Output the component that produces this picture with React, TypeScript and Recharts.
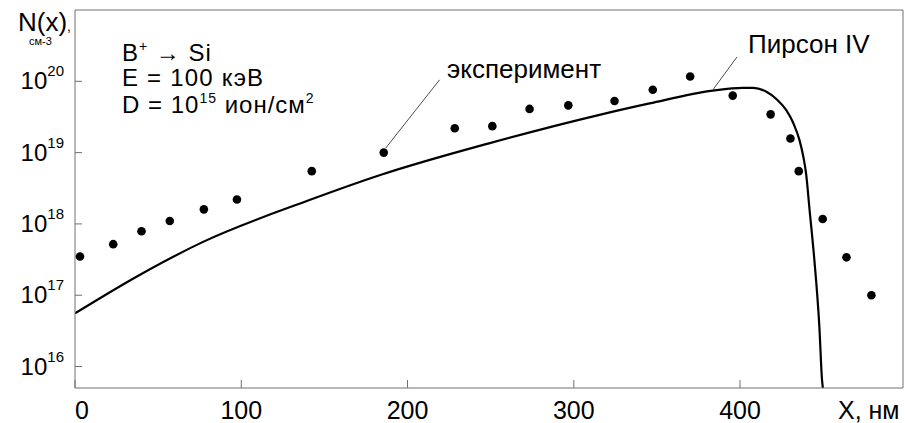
import React from "react";
import {
  ComposedChart,
  Line,
  Scatter,
  XAxis,
  YAxis,
  ReferenceLine,
} from "recharts";

// Pearson IV model curve, x in nm
const pearsonX = [
  0, 37, 77, 141, 185, 249, 315.5, 345.6, 383.6, 401.6, 408, 415.6, 422,
  427.6, 432, 435.7, 438, 439.7, 441.8, 444.7, 447.7, 449.3, 449.8,
];
const pearsonN = [
  5.57e16, 1.82e17, 5.6e17, 2.16e18, 4.97e18, 1.35e19, 3.39e19, 4.9e19,
  7.4e19, 8.1e19, 8.1e19, 7.2e19, 5.6e19, 4.0e19, 2.6e19, 1.51e19,
  8.9e18, 5.1e18, 1.58e18, 3.1e17, 3.6e16, 6.5e15, 5e15,
];

// experiment points
const expX = [
  3, 23, 40, 57, 77.5, 97.4, 142.4, 185.7, 228.4, 251, 273.4, 296.7,
  324.5, 347.5, 370, 395.6, 418.4, 430.3, 435.3, 449.7, 464, 479,
];
const expN = [
  3.5e17, 5.2e17, 7.9e17, 1.1e18, 1.6e18, 2.2e18, 5.5e18, 1.0e19, 2.2e19,
  2.35e19, 4.1e19, 4.6e19, 5.3e19, 7.6e19, 1.17e20, 6.3e19, 3.44e19,
  1.58e19, 5.5e18, 1.17e18, 3.4e17, 1.0e17,
];

const xTicks = [0, 100, 200, 300, 400];
const yTicks = [1e16, 1e17, 1e18, 1e19, 1e20];
const yExp = ["16", "17", "18", "19", "20"];

const X_MAX = 498;
const Y_MIN = 5e15;
const Y_MAX = 1e21;

const FONT = "'Liberation Sans', Arial, sans-serif";
const AXIS = "#707070";

const pearsonData = pearsonX.map((x, i) => ({ x, n: pearsonN[i] }));
const expData = expX.map((x, i) => ({ x, n: expN[i] }));

const YTick = (props: any) => {
  const { x, y, payload } = props;
  const idx = yTicks.indexOf(payload.value);
  return (
    <g>
      <line x1={x} y1={y} x2={x + 7} y2={y} stroke={AXIS} />
      <text x={x - 11} y={y + 8} textAnchor="end" fontFamily={FONT} fill="#000">
        <tspan fontSize={24}>10</tspan>
        <tspan fontSize={15} dy={-13}>
          {yExp[idx]}
        </tspan>
      </text>
    </g>
  );
};

const XTick = (props: any) => {
  const { x, y, payload } = props;
  return (
    <g>
      <line x1={x} y1={y} x2={x} y2={y - 8} stroke={AXIS} />
      <text
        x={x}
        y={y + 31}
        textAnchor={payload.value === 0 ? "start" : "middle"}
        fontFamily={FONT}
        fontSize={25}
        fill="#000"
      >
        {payload.value}
      </text>
    </g>
  );
};

const Dot = (props: any) => {
  const { cx, cy } = props;
  return <circle cx={cx} cy={cy} r={4.3} fill="#000" />;
};

export default function App() {
  return (
    <div style={{ position: "absolute", left: 0, top: 0 }}>
      <ComposedChart
        width={905}
        height={423}
        margin={{ top: 10, right: 2, left: 0, bottom: 0 }}
      >
        <XAxis
          dataKey="x"
          type="number"
          domain={[0, X_MAX]}
          ticks={xTicks}
          tick={<XTick />}
          tickLine={false}
          tickSize={0}
          tickMargin={0}
          height={35}
          stroke={AXIS}
          allowDataOverflow
        />
        <YAxis
          type="number"
          scale="log"
          domain={[Y_MIN, Y_MAX]}
          ticks={yTicks}
          tick={<YTick />}
          tickLine={false}
          tickSize={0}
          tickMargin={0}
          width={75}
          stroke={AXIS}
          allowDataOverflow
        />
        <ReferenceLine y={Y_MAX} stroke={AXIS} />
        <ReferenceLine x={X_MAX} stroke={AXIS} />
        <ReferenceLine
          segment={[
            { x: 219.3, y: 1.05e20 },
            { x: 186.9, y: 1.16e19 },
          ]}
          stroke="#000"
          strokeWidth={0.7}
        />
        <ReferenceLine
          segment={[
            { x: 398.2, y: 2.2e20 },
            { x: 384, y: 7.8e19 },
          ]}
          stroke="#000"
          strokeWidth={0.7}
        />
        <Line
          data={pearsonData}
          dataKey="n"
          type="monotone"
          stroke="#000"
          strokeWidth={2.2}
          dot={false}
          isAnimationActive={false}
        />
        <Scatter
          data={expData}
          dataKey="n"
          shape={<Dot />}
          isAnimationActive={false}
        />
        <g fontFamily={FONT} fill="#000">
          <text x={18} y={31} fontSize={26}>
            N(x)<tspan fontSize={14}>,</tspan>
          </text>
          <text x={29} y={45} fontSize={11}>см-3</text>
          <text x={122} y={61} fontSize={24} letterSpacing={1}>
            B<tspan fontSize={14} dy={-10}>+</tspan>
            <tspan dy={10}> → Si</tspan>
          </text>
          <text x={122} y={86} fontSize={24} letterSpacing={1.2}>
            E = 100 кэВ
          </text>
          <text x={122} y={113} fontSize={24} letterSpacing={1}>
            D = 10<tspan fontSize={14} dy={-10}>15</tspan>
            <tspan dy={10}> ион/см</tspan>
            <tspan fontSize={14} dy={-10}>2</tspan>
          </text>
          <text x={447} y={78} fontSize={26}>эксперимент</text>
          <text x={748} y={53} fontSize={26}>Пирсон IV</text>
          <text x={838} y={419} fontSize={25}>X, нм</text>
        </g>
      </ComposedChart>
    </div>
  );
}
